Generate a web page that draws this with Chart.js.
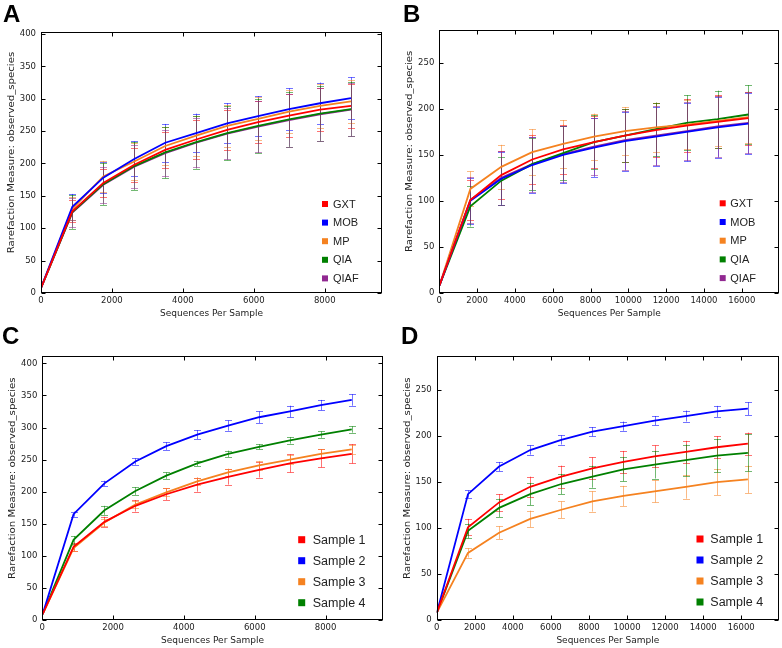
<!DOCTYPE html>
<html>
<head>
<meta charset="utf-8">
<script src="https://cdn.jsdelivr.net/npm/chart.js@4.4.1/dist/chart.umd.min.js"></script>
<style>
body { margin: 0; background: #fff; }
#wrap { position: relative; width: 782px; height: 648px; }
canvas { position: absolute; }
</style>
</head>
<body>
<div id="wrap">
  <canvas id="chartA" width="391" height="324" style="left:0;top:0"></canvas>
  <canvas id="chartB" width="391" height="324" style="left:391px;top:0"></canvas>
  <canvas id="chartC" width="391" height="324" style="left:0;top:324px"></canvas>
  <canvas id="chartD" width="391" height="324" style="left:391px;top:324px"></canvas>
</div>
<script>
// profondeurs de rarefaction (sequences par echantillon)
const depthsAC = [10, 883, 1756, 2629, 3502, 4375, 5248, 6121, 6994, 7867, 8740];
const depthsBD = [10, 1644, 3278, 4912, 6546, 8180, 9814, 11448, 13082, 14716, 16350];

const groupNames = ["GXT", "MOB", "MP", "QIA", "QIAF"];
const sampleNames = ["Sample 1", "Sample 2", "Sample 3", "Sample 4"];
const groupColors = ["#ff0000", "#0000ff", "#f58220", "#008000", "#912891"];
const sampleColors = ["#ff0000", "#0000ff", "#f58220", "#008000"];

const xTicksAC = [0, 2000, 4000, 6000, 8000];
const xTicksBD = [0, 2000, 4000, 6000, 8000, 10000, 12000, 14000, 16000];
const yTicksAC = [0, 50, 100, 150, 200, 250, 300, 350, 400];
const yTicksBD = [0, 50, 100, 150, 200, 250];

const xTitle = "Sequences Per Sample";
const yTitle = "Rarefaction Measure: observed_species";

// A : moyennes par groupe (GXT, MOB, MP, QIA, QIAF)
const meansA = [
    [9, 126, 170, 198, 221, 237, 252, 264, 274, 283, 289],
    [9, 133, 178, 207, 232, 247, 262, 273, 284, 293, 301],
    [9, 130, 180, 203, 227, 243, 258, 269, 280, 289, 296],
    [9, 125, 168, 196, 217, 233, 247, 258, 268, 277, 284],
    [9, 124, 167, 195, 216, 232, 246, 257, 267, 276, 283]
];
const errA = [
    [0, 17, 22, 26, 28, 30, 31, 32, 33, 33, 34],
    [0, 20, 24, 27, 29, 30, 31, 31, 32, 32, 32],
    [0, 18, 24, 28, 30, 31, 32, 33, 33, 34, 33],
    [0, 26, 32, 37, 40, 41, 42, 42, 43, 43, 42],
    [0, 22, 28, 33, 36, 38, 39, 40, 41, 41, 41]
];

// B
const meansB = [
    [8, 101, 128, 145, 156, 164, 171, 177, 182, 186, 190],
    [8, 100, 124, 139, 150, 158, 165, 170, 175, 180, 184],
    [8, 113, 137, 153, 162, 170, 176, 180, 183, 187, 191],
    [8, 94, 122, 140, 152, 164, 171, 178, 185, 189, 194],
    [8, 101, 125, 140, 151, 159, 166, 171, 176, 181, 185]
];
const errB = [
    [0, 22, 26, 27, 27, 28, 29, 29, 29, 29, 29],
    [0, 25, 29, 30, 31, 32, 32, 32, 32, 33, 33],
    [0, 19, 24, 25, 26, 25, 26, 27, 27, 27, 28],
    [0, 22, 26, 28, 29, 29, 29, 29, 30, 31, 32],
    [0, 25, 29, 30, 30, 31, 32, 32, 32, 33, 33]
];

// C
const meansC = [
    [9, 114, 153, 178, 196, 211, 223, 234, 244, 252, 259],
    [9, 165, 213, 247, 271, 289, 303, 316, 325, 335, 343],
    [9, 112, 152, 180, 199, 216, 230, 241, 250, 259, 266],
    [9, 125, 171, 201, 225, 244, 259, 270, 280, 289, 297]
];
const errC = [
    [0, 6, 8, 9, 9, 11, 12, 12, 14, 14, 15],
    [0, 4, 4, 5, 6, 7, 8, 9, 9, 8, 9],
    [0, 5, 6, 6, 6, 6, 6, 7, 7, 7, 7],
    [0, 6, 7, 6, 5, 4, 5, 4, 5, 5, 5]
];

// D
const meansD = [
    [8, 101, 128, 145, 156, 165, 172, 178, 183, 188, 192],
    [8, 137, 167, 185, 196, 205, 211, 217, 222, 227, 230],
    [8, 73, 95, 110, 120, 129, 135, 140, 145, 150, 153],
    [8, 97, 122, 137, 148, 156, 164, 169, 174, 179, 182]
];
const errD = [
    [0, 9, 9, 11, 12, 12, 12, 12, 12, 12, 12],
    [0, 4, 5, 5, 5, 5, 5, 5, 6, 6, 7],
    [0, 5, 7, 9, 9, 11, 11, 12, 13, 14, 15],
    [0, 8, 10, 12, 11, 12, 13, 15, 17, 18, 20]
];

function fade(hex, a) {
    const n = parseInt(hex.slice(1), 16);
    return "rgba(" + (n >> 16) + "," + ((n >> 8) & 255) + "," + (n & 255) + "," + a + ")";
}

// barres d'erreur, cadre facon matplotlib, legende, titres
const rareDecor = {
    id: "rareDecor",
    beforeDatasetsDraw(chart, args, o) {
        const ctx = chart.ctx;
        const xs = chart.scales.x, ys = chart.scales.y;
        ctx.save();
        ctx.lineWidth = 1;
        chart.data.datasets.forEach((ds, i) => {
            ctx.strokeStyle = fade(ds.borderColor, 0.55);
            ds.data.forEach((p, j) => {
                const e = o.err[i][j];
                if (!e) return;
                const x = Math.round(xs.getPixelForValue(p.x)) + 0.5;
                const y1 = ys.getPixelForValue(p.y - e);
                const y2 = ys.getPixelForValue(p.y + e);
                ctx.beginPath();
                ctx.moveTo(x, y1); ctx.lineTo(x, y2);
                ctx.moveTo(x - 3.5, Math.round(y1) + 0.5); ctx.lineTo(x + 3.5, Math.round(y1) + 0.5);
                ctx.moveTo(x - 3.5, Math.round(y2) + 0.5); ctx.lineTo(x + 3.5, Math.round(y2) + 0.5);
                ctx.stroke();
            });
        });
        ctx.restore();
    },
    afterDraw(chart, args, o) {
        const ctx = chart.ctx;
        const ca = chart.chartArea;
        const xs = chart.scales.x, ys = chart.scales.y;
        const l = Math.round(ca.left) + 0.5, r = Math.round(ca.right) - 0.5;
        const t = Math.round(ca.top) + 0.5, b = Math.round(ca.bottom) - 0.5;
        ctx.save();
        ctx.strokeStyle = "#000";
        ctx.lineWidth = 1;
        ctx.strokeRect(l, t, r - l, b - t);
        ctx.beginPath();
        xs.ticks.forEach(tk => {
            const x = Math.round(xs.getPixelForValue(tk.value)) + 0.5;
            ctx.moveTo(x, b); ctx.lineTo(x, b - 4);
            ctx.moveTo(x, t); ctx.lineTo(x, t + 4);
        });
        ys.ticks.forEach(tk => {
            const y = Math.round(ys.getPixelForValue(tk.value)) + 0.5;
            ctx.moveTo(l, y); ctx.lineTo(l + 4, y);
            ctx.moveTo(r, y); ctx.lineTo(r - 4, y);
        });
        ctx.stroke();

        // legende dans le graphe
        const lg = o.legend;
        ctx.font = lg.size + "px 'Liberation Sans', Arial, sans-serif";
        ctx.textAlign = "left";
        ctx.textBaseline = "middle";
        chart.data.datasets.forEach((ds, i) => {
            const y = lg.top + i * lg.gap;
            ctx.fillStyle = ds.borderColor;
            ctx.fillRect(lg.x - lg.box / 2, y - lg.box / 2, lg.box, lg.box);
            ctx.fillStyle = "#222";
            ctx.fillText(ds.label, lg.textX, y + 0.5);
        });

        // titres des axes
        ctx.fillStyle = "#222";
        ctx.font = "9px 'DejaVu Sans'";
        ctx.textAlign = "center";
        ctx.fillText(xTitle, (ca.left + ca.right) / 2, ca.bottom + 21);
        ctx.save();
        ctx.translate(ca.left - 29.5, (ca.top + ca.bottom) / 2 - 10);
        ctx.rotate(-Math.PI / 2);
        ctx.scale(1.13, 1); // l'original est un peu etire en hauteur
        ctx.fillText(yTitle, 0, 0);
        ctx.restore();

        // lettre du panneau
        ctx.fillStyle = "#000";
        ctx.font = "bold 24px 'Liberation Sans', Arial, sans-serif";
        ctx.textAlign = "left";
        ctx.textBaseline = "alphabetic";
        ctx.fillText(o.letter, o.letterX, o.letterY);
        ctx.restore();
    }
};

function makePanel(id, p) {
    const datasets = p.names.map((name, i) => ({
        label: name,
        data: p.depths.map((d, j) => ({ x: d, y: p.means[i][j] })),
        borderColor: p.colors[i],
        backgroundColor: p.colors[i],
        borderWidth: 1.8,
        pointRadius: 0,
        tension: 0
    }));
    const tickFont = { family: "DejaVu Sans", size: 8.5 };
    return new Chart(document.getElementById(id), {
        type: "line",
        data: { datasets: datasets },
        options: {
            responsive: false,
            animation: false,
            devicePixelRatio: 1,
            layout: { padding: { left: 0, top: p.box.top, right: 391 - p.box.right, bottom: 0 } },
            plugins: {
                legend: { display: false },
                tooltip: { enabled: false },
                rareDecor: {
                    err: p.err, legend: p.legend,
                    letter: p.letter, letterX: p.letterX, letterY: p.letterY
                }
            },
            scales: {
                x: {
                    type: "linear", min: 0, max: p.xMax,
                    grid: { display: false, drawTicks: false }, border: { display: false },
                    ticks: { padding: 3, color: "#222", font: tickFont, maxRotation: 0, autoSkip: false,
                             callback: v => String(v) },
                    afterBuildTicks: s => { s.ticks = p.xTicks.map(v => ({ value: v })); },
                    afterFit: s => { s.height = 324 - p.box.bottom; }
                },
                y: {
                    type: "linear", min: 0, max: p.yMax,
                    grid: { display: false, drawTicks: false }, border: { display: false },
                    ticks: { padding: 5, color: "#222", font: tickFont, autoSkip: false,
                             callback: v => String(v) },
                    afterBuildTicks: s => { s.ticks = p.yTicks.map(v => ({ value: v })); },
                    afterFit: s => { s.width = p.box.left; }
                }
            }
        },
        plugins: [rareDecor]
    });
}

makePanel("chartA", {
    names: groupNames, colors: groupColors, depths: depthsAC, means: meansA, err: errA,
    xTicks: xTicksAC, yTicks: yTicksAC, xMax: 9614, yMax: 403,
    box: { left: 41, right: 382, top: 32, bottom: 293 },
    legend: { x: 325, textX: 333, top: 204, gap: 18.6, size: 11, box: 6 },
    letter: "A", letterX: 3, letterY: 22
});
makePanel("chartB", {
    names: groupNames, colors: groupColors, depths: depthsBD, means: meansB, err: errB,
    xTicks: xTicksBD, yTicks: yTicksBD, xMax: 17985, yMax: 286,
    box: { left: 48.3, right: 388.3, top: 30, bottom: 292.7 },
    legend: { x: 331.7, textX: 339.3, top: 203.3, gap: 18.7, size: 11, box: 6 },
    letter: "B", letterX: 12, letterY: 22
});
makePanel("chartC", {
    names: sampleNames, colors: sampleColors, depths: depthsAC, means: meansC, err: errC,
    xTicks: xTicksAC, yTicks: yTicksAC, xMax: 9614, yMax: 411,
    box: { left: 42.3, right: 382.7, top: 32.3, bottom: 296 },
    legend: { x: 301.7, textX: 312.7, top: 215.7, gap: 21, size: 12.5, box: 7 },
    letter: "C", letterX: 2, letterY: 20
});
makePanel("chartD", {
    names: sampleNames, colors: sampleColors, depths: depthsBD, means: meansD, err: errD,
    xTicks: xTicksBD, yTicks: yTicksBD, xMax: 17985, yMax: 287,
    box: { left: 45.7, right: 388, top: 32.3, bottom: 296 },
    legend: { x: 309, textX: 319.3, top: 215, gap: 21, size: 12.5, box: 7 },
    letter: "D", letterX: 10, letterY: 20
});
</script>
</body>
</html>
